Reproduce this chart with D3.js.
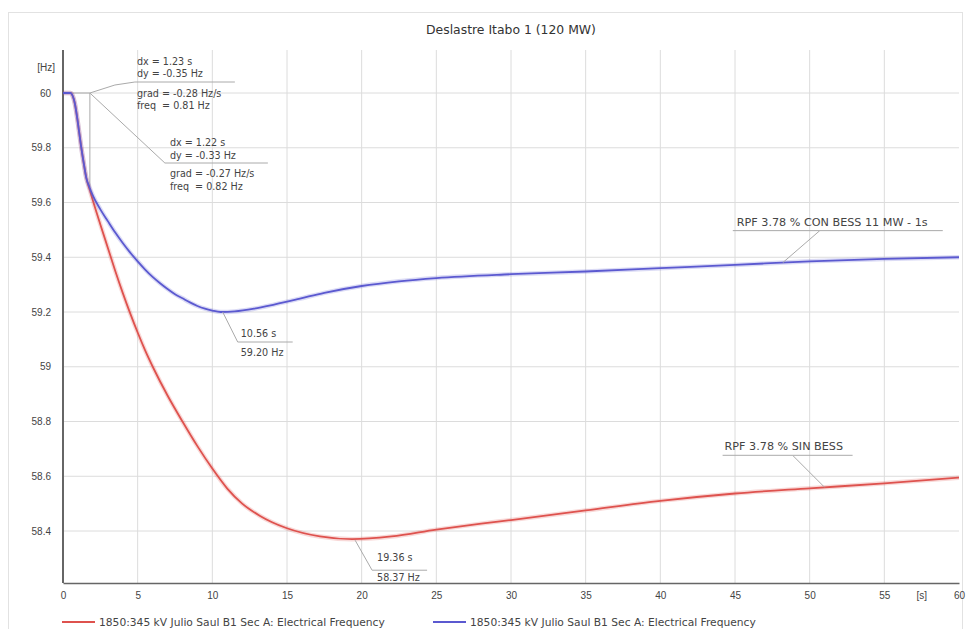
<!DOCTYPE html>
<html>
<head>
<meta charset="utf-8">
<script src="https://cdn.jsdelivr.net/npm/d3@7"></script>
<style>
  html, body { margin: 0; padding: 0; background: #fff; }
  svg { display: block; font-family: "DejaVu Sans", Verdana, sans-serif; }
</style>
</head>
<body>
<svg id="chart" width="970" height="629"></svg>
<script>
// ---------- data ----------
const chartTitle = "Deslastre Itabo 1 (120 MW)";
const seriesNames = [
  "1850:345 kV Julio Saul B1 Sec A: Electrical Frequency",
  "1850:345 kV Julio Saul B1 Sec A: Electrical Frequency"
];
// Red: RPF 3.78 % SIN BESS
const timeRed = [0, 0.5, 0.6, 0.8, 1.0, 1.2, 1.4, 1.56, 1.78, 2.0, 2.5, 3.0, 3.5, 4.0, 4.5, 5.0, 5.5, 6.1, 7.0, 8.0, 9.0, 10.0, 11.0, 12.0, 13.2, 14.0, 15, 17.2, 19.36, 22, 25, 28, 30, 35, 40, 45, 50, 55, 60];
const freqRed = [60, 60, 59.995, 59.96, 59.89, 59.81, 59.74, 59.69, 59.648, 59.607, 59.52, 59.435, 59.35, 59.27, 59.195, 59.125, 59.06, 58.99, 58.895, 58.8, 58.71, 58.628, 58.555, 58.5, 58.455, 58.432, 58.41, 58.38, 58.37, 58.38, 58.405, 58.427, 58.44, 58.475, 58.51, 58.537, 58.556, 58.574, 58.595];
// Blue: RPF 3.78 % CON BESS 11 MW - 1s
const timeBlue = [0, 0.5, 0.6, 0.8, 1.0, 1.2, 1.4, 1.56, 1.78, 2.0, 2.5, 3.0, 3.5, 4.0, 4.5, 5.0, 5.5, 6.0, 6.5, 7.0, 7.5, 8.0, 8.5, 9.0, 9.5, 10.0, 10.56, 11.5, 12.8, 14.2, 15.8, 17.5, 20, 22.5, 25, 30, 35, 40, 45, 50, 55, 60];
const freqBlue = [60, 60, 59.995, 59.96, 59.89, 59.81, 59.74, 59.69, 59.655, 59.625, 59.575, 59.532, 59.49, 59.452, 59.417, 59.385, 59.355, 59.328, 59.305, 59.284, 59.265, 59.25, 59.235, 59.222, 59.212, 59.205, 59.20, 59.202, 59.212, 59.228, 59.248, 59.27, 59.295, 59.312, 59.324, 59.338, 59.348, 59.36, 59.372, 59.385, 59.394, 59.40];

const xTicks = [0, 5, 10, 15, 20, 25, 30, 35, 40, 45, 50, 55, 60];
const yTicks = [60, 59.8, 59.6, 59.4, 59.2, 59, 58.8, 58.6, 58.4];
const xUnit = "[s]";
const yUnit = "[Hz]";

// annotations
const gradientA = ["dx = 1.23 s", "dy = -0.35 Hz", "grad = -0.28 Hz/s", "freq  = 0.81 Hz"];
const gradientB = ["dx = 1.22 s", "dy = -0.33 Hz", "grad = -0.27 Hz/s", "freq  = 0.82 Hz"];
const measureT = [0.55, 1.8];          // gradient measure window [s]
const measureF = [60, 59.655];         // frequency at window [Hz]
const minBlue = { t: 10.56, f: 59.20, label: ["10.56 s", "59.20 Hz"] };
const minRed  = { t: 19.36, f: 58.37, label: ["19.36 s", "58.37 Hz"] };
const labelBlue = { t: 48.2, text: "RPF 3.78 % CON BESS 11 MW - 1s" };
const labelRed  = { t: 51.0, text: "RPF 3.78 % SIN BESS" };

// ---------- drawing ----------
const svg = d3.select("#chart");
const colRed = "#de524e", colBlue = "#5b59d0";
const gridCol = "#dcdcdc", axisCol = "#666", textCol = "#444";
const tickFont = "Liberation Sans, Arial, sans-serif";

const x = d3.scaleLinear().domain([0, 60]).range([63, 959]);
const y = d3.scaleLinear().domain([58.4, 60]).range([531, 93]);
const plotTop = 50, plotBottom = 583;

// frame
svg.append("rect").attr("x", 8.5).attr("y", 12.5).attr("width", 954).attr("height", 640)
  .attr("fill", "none").attr("stroke", "#e2e2e2");

// title
svg.append("text").attr("x", 511).attr("y", 34).attr("text-anchor", "middle")
  .attr("font-size", 12.4).attr("fill", "#333").text(chartTitle);

// grid
svg.append("g").selectAll("line").data(xTicks.filter(d => d > 0 && d < 60)).join("line")
  .attr("x1", d => x(d)).attr("x2", d => x(d)).attr("y1", plotTop).attr("y2", plotBottom)
  .attr("stroke", gridCol).attr("stroke-width", 1);
svg.append("g").selectAll("line").data(yTicks).join("line")
  .attr("x1", x(0)).attr("x2", x(60)).attr("y1", d => y(d)).attr("y2", d => y(d))
  .attr("stroke", gridCol).attr("stroke-width", 1);

// axes
const xAxis = d3.axisBottom(x).tickValues(xTicks).tickSize(0).tickPadding(9).tickFormat(d3.format("d"));
const gx = svg.append("g").attr("transform", `translate(0,${plotBottom})`).call(xAxis);
gx.select(".domain").attr("stroke", axisCol).attr("stroke-width", 1.5);
gx.selectAll("text").attr("font-size", 10).attr("fill", textCol).attr("font-family", tickFont);
gx.append("text").attr("x", x(57.5)).attr("y", 9).attr("dy", "0.71em").attr("text-anchor", "middle")
  .attr("font-size", 10).attr("fill", textCol).attr("font-family", tickFont).text(xUnit);

const yAxis = d3.axisLeft(y).tickValues(yTicks).tickSize(0).tickPadding(12).tickFormat(d => d3.format("")(d));
const gy = svg.append("g").attr("transform", `translate(${x(0)},0)`).call(yAxis);
gy.select(".domain").remove();
gy.selectAll("text").attr("font-size", 10).attr("fill", textCol).attr("font-family", tickFont);
svg.append("line").attr("x1", x(0)).attr("x2", x(0)).attr("y1", plotTop).attr("y2", plotBottom)
  .attr("stroke", axisCol).attr("stroke-width", 2);
svg.append("text").attr("x", x(0) - 8).attr("y", 71).attr("text-anchor", "end")
  .attr("font-size", 10).attr("fill", textCol).attr("font-family", tickFont).text(yUnit);

// measurement lines (gradient)
const annCol = "#aaa";
svg.append("line").attr("x1", x(measureT[0])).attr("x2", x(measureT[1])).attr("y1", y(measureF[0])).attr("y2", y(measureF[0]))
  .attr("stroke", annCol).attr("stroke-width", 1);
svg.append("line").attr("x1", x(measureT[1])).attr("x2", x(measureT[1])).attr("y1", y(measureF[0])).attr("y2", y(measureF[1]))
  .attr("stroke", annCol).attr("stroke-width", 1);

// series
const line = d3.line().x(d => x(d[0])).y(d => y(d[1])).curve(d3.curveMonotoneX);
const redPts = timeRed.map((t, i) => [t, freqRed[i]]);
const bluePts = timeBlue.map((t, i) => [t, freqBlue[i]]);
[[redPts, colRed], [bluePts, colBlue]].forEach(([pts, c]) => {
  svg.append("path").datum(pts).attr("d", line).attr("fill", "none")
    .attr("stroke", c).attr("stroke-opacity", 0.22).attr("stroke-width", 4.5);
  svg.append("path").datum(pts).attr("d", line).attr("fill", "none")
    .attr("stroke", c).attr("stroke-width", 1.8);
});

// annotation helpers
function leader(pts) {
  svg.append("path").attr("d", d3.line()(pts)).attr("fill", "none").attr("stroke", annCol).attr("stroke-width", 1);
}
function texts(lines, x0, ys) {
  lines.forEach((s, i) => svg.append("text").attr("x", x0).attr("y", ys[i])
    .attr("font-size", 9.6).attr("fill", textCol).attr("xml:space", "preserve").text(s));
}
const ax = x(measureT[1]), ay = y(measureF[0]);
// gradient A
leader([[ax, ay], [ax + 25, ay - 8], [ax + 45, ay - 11], [ax + 145, ay - 11]]);
texts(gradientA, ax + 47, [ay - 28, ay - 16, ay + 4, ay + 16]);
// gradient B
leader([[ax, ay], [ax + 75, ay + 70], [ax + 178, ay + 70]]);
texts(gradientB, ax + 80, [ay + 53, ay + 66, ay + 84, ay + 97]);

// min blue
const bx = x(minBlue.t), by = y(minBlue.f);
leader([[bx + 2, by], [bx + 17, by + 30], [bx + 72, by + 30]]);
texts(minBlue.label, bx + 20, [by + 25, by + 44]);
// min red
const rx = x(minRed.t), ry = y(minRed.f);
leader([[rx + 3, ry + 1], [rx + 20, ry + 31], [rx + 75, ry + 31]]);
texts(minRed.label, rx + 25, [ry + 22, ry + 42]);

// series labels
function interp(ts, fs, t) { return d3.scaleLinear().domain(ts).range(fs)(t); }
const lbx = x(labelBlue.t), lby = y(interp(timeBlue, freqBlue, labelBlue.t));
leader([[lbx, lby], [lbx + 37, lby - 32], [lbx + 160, lby - 32]]);
svg.append("line").attr("x1", lbx - 50).attr("x2", lbx + 37).attr("y1", lby - 32).attr("y2", lby - 32).attr("stroke", annCol);
svg.append("text").attr("x", lbx - 46).attr("y", lby - 37).attr("font-size", 11.2).attr("fill", textCol).text(labelBlue.text);

const lrx = x(labelRed.t), lry = y(interp(timeRed, freqRed, labelRed.t));
leader([[lrx, lry], [lrx - 32, lry - 32], [lrx - 102, lry - 32]]);
svg.append("line").attr("x1", lrx - 32).attr("x2", lrx + 28).attr("y1", lry - 32).attr("y2", lry - 32).attr("stroke", annCol);
svg.append("text").attr("x", lrx - 100).attr("y", lry - 37).attr("font-size", 11.2).attr("fill", textCol).text(labelRed.text);

// legend
const legY = 622;
const leg = [{ c: colRed, x0: 62, name: seriesNames[0] }, { c: colBlue, x0: 433, name: seriesNames[1] }];
leg.forEach(l => {
  svg.append("line").attr("x1", l.x0).attr("x2", l.x0 + 33).attr("y1", legY).attr("y2", legY)
    .attr("stroke", l.c).attr("stroke-width", 2);
  svg.append("text").attr("x", l.x0 + 37).attr("y", legY + 3.8).attr("font-size", 10.7).attr("fill", textCol).text(l.name);
});
</script>
</body>
</html>
